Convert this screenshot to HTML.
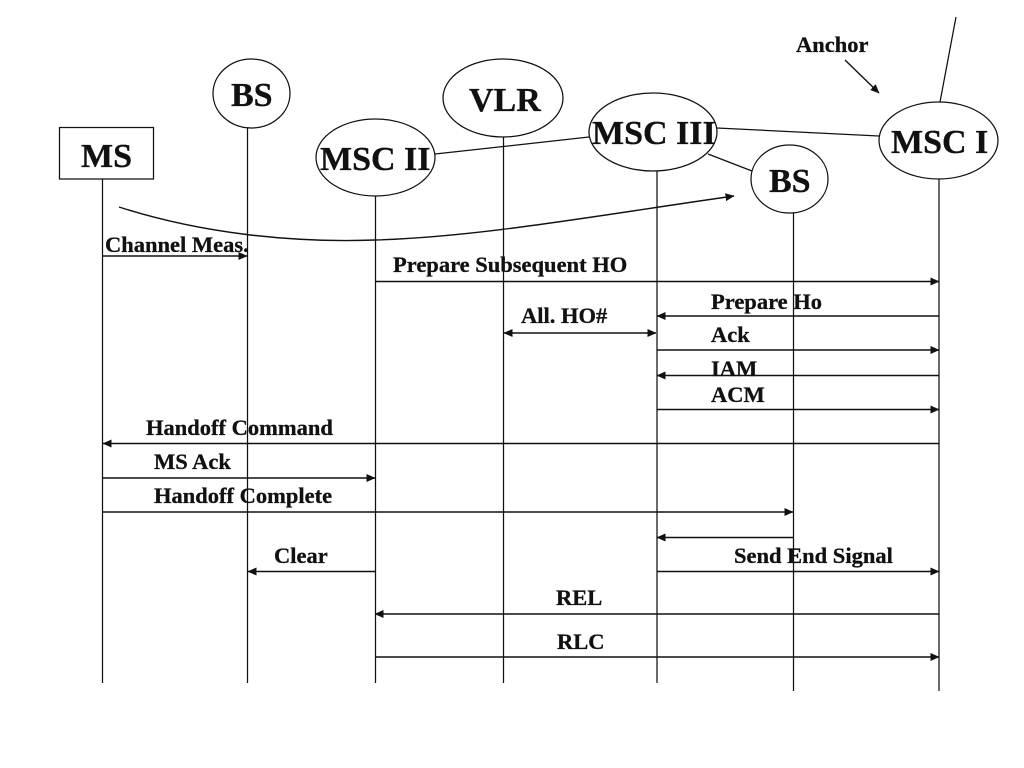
<!DOCTYPE html>
<html>
<head>
<meta charset="utf-8">
<style>
html,body{margin:0;padding:0;background:#fff;width:1024px;height:768px;overflow:hidden}
svg{display:block}
text{font-family:"Liberation Serif",serif;font-weight:bold;fill:#111;stroke:#111;stroke-width:.3px}
.b{font-size:34px}
.s{font-size:22.5px}
</style>
</head>
<body>
<svg width="1024" height="768" viewBox="0 0 1024 768" xmlns="http://www.w3.org/2000/svg">
<defs>
<marker id="a" markerUnits="userSpaceOnUse" markerWidth="9" markerHeight="9" refX="8.5" refY="4" orient="auto-start-reverse"><path d="M0 0L9 4L0 8Z" fill="#111"/></marker>
</defs>
<g stroke="#111" stroke-width="1.25" fill="none">
<path d="M102.5 179V683M247.5 128V683M375.500 196V683M503.500 137V683M657 171V683M793.500 213V691M939 179V691"/>
<path d="M940 102L956 17M435 154L589 137M717 128L879 136M708 154L752 171"/>
<rect x="59.5" y="127.5" width="94" height="51.5"/>
<ellipse cx="251.5" cy="93.5" rx="38.5" ry="34.5"/>
<ellipse cx="375.5" cy="157.5" rx="59.5" ry="38.5"/>
<ellipse cx="503" cy="98" rx="60" ry="39"/>
<ellipse cx="653" cy="132" rx="64" ry="39"/>
<ellipse cx="789.5" cy="179" rx="38.5" ry="34"/>
<ellipse cx="938.5" cy="140.5" rx="59.5" ry="38.5"/>
</g>
<g stroke="#111" stroke-width="1.4" fill="none">
<path d="M119 207C200 233 290 243 375 240C480 237 600 215 734 196" marker-end="url(#a)"/>
<path d="M845 60L879 93" marker-end="url(#a)"/>
<path d="M103 256H247" marker-end="url(#a)"/>
<path d="M376 281.500H939" marker-end="url(#a)"/>
<path d="M939 316H657" marker-end="url(#a)"/>
<path d="M504 333H656" marker-start="url(#a)" marker-end="url(#a)"/>
<path d="M657 350H939" marker-end="url(#a)"/>
<path d="M939 375.500H657" marker-end="url(#a)"/>
<path d="M657 409.500H939" marker-end="url(#a)"/>
<path d="M939 443.500H103" marker-end="url(#a)"/>
<path d="M103 478H375" marker-end="url(#a)"/>
<path d="M103 512H793" marker-end="url(#a)"/>
<path d="M793 537.500H657" marker-end="url(#a)"/>
<path d="M375 571.500H248" marker-end="url(#a)"/>
<path d="M657 571.500H939" marker-end="url(#a)"/>
<path d="M939 614H375" marker-end="url(#a)"/>
<path d="M375 657H939" marker-end="url(#a)"/>
</g>
<text class="b" x="81" y="167">MS</text>
<text class="b" x="231" y="106">BS</text>
<text class="b" x="320" y="170">MSC II</text>
<text class="b" x="469" y="111">VLR</text>
<text class="b" x="592" y="144">MSC III</text>
<text class="b" x="769" y="192">BS</text>
<text class="b" x="891" y="153">MSC I</text>
<text class="s" x="796" y="52">Anchor</text>
<text class="s" x="105" y="252">Channel Meas.</text>
<text class="s" x="393" y="272">Prepare Subsequent HO</text>
<text class="s" x="711" y="309">Prepare Ho</text>
<text class="s" x="521" y="323">All. HO#</text>
<text class="s" x="711" y="342">Ack</text>
<text class="s" x="711" y="376">IAM</text>
<text class="s" x="711" y="402">ACM</text>
<text class="s" x="146" y="435">Handoff Command</text>
<text class="s" x="154" y="469">MS Ack</text>
<text class="s" x="154" y="503">Handoff Complete</text>
<text class="s" x="274" y="563">Clear</text>
<text class="s" x="734" y="563">Send End Signal</text>
<text class="s" x="556" y="605">REL</text>
<text class="s" x="557" y="649">RLC</text>
</svg>
</body>
</html>
